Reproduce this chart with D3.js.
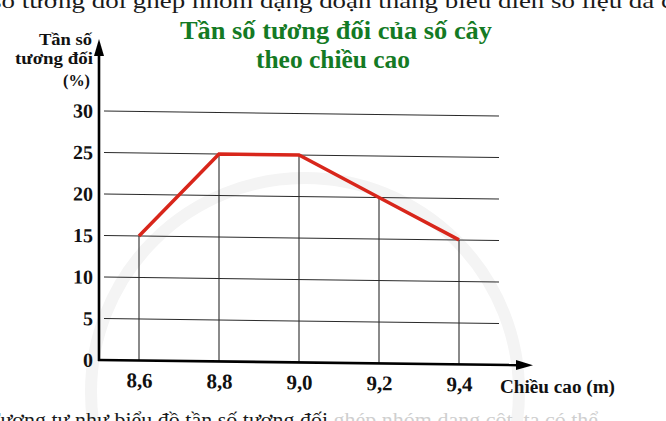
<!DOCTYPE html>
<html>
<head>
<meta charset="utf-8">
<script src="https://d3js.org/d3.v7.min.js"></script>
<style>
  body { margin: 0; background: #fff; }
  svg { display: block; }
</style>
</head>
<body>
<svg width="666" height="421"></svg>
<script>

// data
var heights = [8.6, 8.8, 9.0, 9.2, 9.4];
var heightLabels = ['8,6', '8,8', '9,0', '9,2', '9,4'];
var freqs = [15, 25, 25, 20, 15];
var yTicks = [0, 5, 10, 15, 20, 25, 30];
var gridTicks = [5, 10, 15, 20, 25, 30];

var titleLines = ['Tần số tương đối của số cây', 'theo chiều cao'];
var yLabelLines = ['Tần số', 'tương đối', '(%)'];
var xLabel = 'Chiều cao (m)';

var serif = '"Liberation Serif", "DejaVu Serif", serif';

var svg = d3.select('svg');

var x = d3.scaleLinear().domain([8.6, 9.4]).range([139, 459]);
var y = d3.scaleLinear().domain([0, 30]).range([360, 111]);

// faint watermark ring from the book page
svg.append('circle')
  .attr('cx', 305).attr('cy', 392).attr('r', 214)
  .attr('fill', 'none')
  .attr('stroke', '#f4f4f4')
  .attr('stroke-width', 12);

// surrounding paragraph text (cut by the crop)
svg.append('text')
  .attr('x', -9).attr('y', 8)
  .attr('textLength', 682)
  .attr('lengthAdjust', 'spacingAndGlyphs')
  .style('font-family', serif)
  .style('font-size', '22px')
  .style('fill', '#1a1a1a')
  .text('số tương đối ghép nhóm dạng đoạn thẳng biểu diễn số liệu đã c');

var bottomText = svg.append('text')
  .attr('x', -13).attr('y', 427)
  .style('font-family', serif)
  .style('font-size', '22px')
  .style('fill', '#1a1a1a');
bottomText.append('tspan').text('Tương tự như biểu đồ tần số tương đối ');
bottomText.append('tspan').style('fill', '#cfcfcf').text('ghép nhóm dạng cột, ta có thể');

// title
svg.selectAll('.title')
  .data(titleLines)
  .enter().append('text')
  .attr('class', 'title')
  .attr('x', function(d, i) { return i == 0 ? 180 : 256; })
  .attr('y', function(d, i) { return i == 0 ? 39 : 68; })
  .attr('textLength', function(d, i) { return i == 0 ? 312 : 154; })
  .attr('lengthAdjust', 'spacingAndGlyphs')
  .style('font-family', serif)
  .style('font-weight', 'bold')
  .style('font-size', '26px')
  .style('fill', '#147a24')
  .text(function(d) { return d; });

// y axis caption
svg.selectAll('.ylab')
  .data(yLabelLines)
  .enter().append('text')
  .attr('class', 'ylab')
  .attr('x', function(d, i) { return [92, 93, 90][i]; })
  .attr('y', function(d, i) { return [45, 64, 86][i]; })
  .attr('text-anchor', 'end')
  .attr('textLength', function(d, i) { return [53, 78, 27][i]; })
  .attr('lengthAdjust', 'spacingAndGlyphs')
  .style('font-family', serif)
  .style('font-weight', 'bold')
  .style('font-size', '16px')
  .style('fill', '#111')
  .text(function(d) { return d; });

// plot area, slightly sheared like the scan
var g = svg.append('g')
  .attr('transform', 'translate(99,360) skewY(0.7) translate(-99,-360)');

// horizontal grid
g.selectAll('.grid')
  .data(gridTicks)
  .enter().append('line')
  .attr('class', 'grid')
  .attr('x1', 104).attr('x2', 499)
  .attr('y1', function(d) { return y(d); })
  .attr('y2', function(d) { return y(d); })
  .attr('stroke', '#2a2a2a')
  .attr('stroke-width', 1);

// drop lines
g.selectAll('.drop')
  .data(heights)
  .enter().append('line')
  .attr('class', 'drop')
  .attr('x1', function(d) { return x(d); })
  .attr('x2', function(d) { return x(d); })
  .attr('y1', function(d, i) { return y(freqs[i]); })
  .attr('y2', y(0))
  .attr('stroke', '#2a2a2a')
  .attr('stroke-width', 1.1);

// frequency polygon
var line = d3.line()
  .x(function(d, i) { return x(heights[i]); })
  .y(function(d) { return y(d); });

g.append('path')
  .attr('d', line(freqs))
  .attr('fill', 'none')
  .attr('stroke', '#d8261b')
  .attr('stroke-width', 3.5)
  .attr('stroke-linejoin', 'miter');

// axes with arrows
g.append('line')
  .attr('x1', 99).attr('y1', y(0) + 1)
  .attr('x2', 99).attr('y2', 52)
  .attr('stroke', '#000').attr('stroke-width', 2.6);
g.append('path')
  .attr('d', 'M99,39 L94,56 L104,56 Z')
  .attr('fill', '#000');

g.append('line')
  .attr('x1', 98).attr('y1', y(0))
  .attr('x2', 520).attr('y2', y(0))
  .attr('stroke', '#000').attr('stroke-width', 2.6);
g.append('path')
  .attr('d', 'M533,' + y(0) + ' L516,' + (y(0) - 5) + ' L516,' + (y(0) + 5) + ' Z')
  .attr('fill', '#000');

// tick labels
var yAxis = g.append('g')
  .attr('transform', 'translate(93,0)')
  .call(d3.axisLeft(y).tickValues(yTicks).tickSize(0).tickPadding(0));
yAxis.select('.domain').remove();
yAxis.selectAll('text')
  .style('font-family', serif)
  .style('font-weight', 'bold')
  .style('font-size', '20px')
  .style('fill', '#111');

var xAxis = g.append('g')
  .attr('transform', 'translate(0,' + y(0) + ')')
  .call(d3.axisBottom(x).tickValues(heights).tickSize(0).tickPadding(12)
    .tickFormat(function(d, i) { return heightLabels[i]; }));
xAxis.select('.domain').remove();
xAxis.selectAll('text')
  .style('font-family', serif)
  .style('font-weight', 'bold')
  .style('font-size', '21px')
  .style('fill', '#111');

// x caption
svg.append('text')
  .attr('x', 500).attr('y', 393)
  .attr('textLength', 115)
  .attr('lengthAdjust', 'spacingAndGlyphs')
  .style('font-family', serif)
  .style('font-weight', 'bold')
  .style('font-size', '18px')
  .style('fill', '#111')
  .text(xLabel);

</script>
</body>
</html>
